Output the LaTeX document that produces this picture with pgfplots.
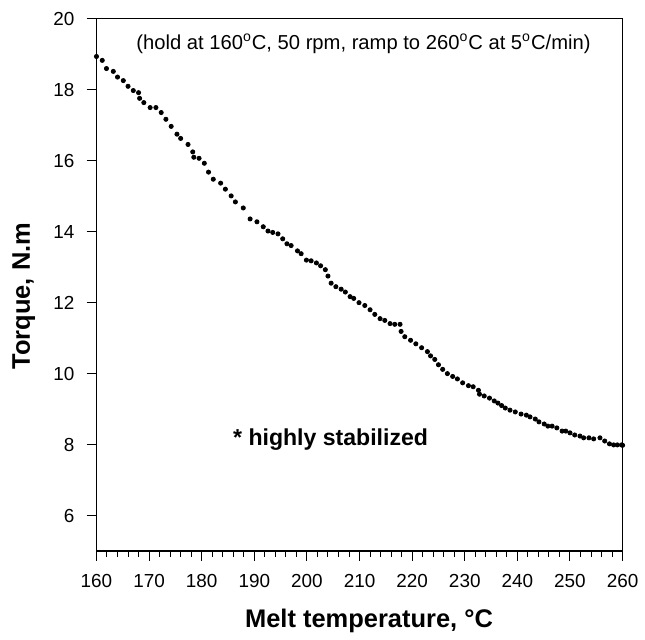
\documentclass[border=0pt]{standalone}
\usepackage{fontspec}
\setmainfont{Liberation Sans}
\usepackage{pgfplots}
\pgfplotsset{compat=1.18}
\begin{document}
\begin{tikzpicture}
\begin{axis}[
  width=264.5pt, height=267.5pt, scale only axis,
  xmin=160, xmax=260, ymin=5, ymax=20,
  xtick={160,170,...,260}, minor x tick num=4,
  ytick={6,8,...,20},
  tick align=outside, xtick pos=bottom, ytick pos=left,
  major tick length=5pt, minor tick length=3pt,
  axis line style={line width=0.6pt},
  every tick/.style={black, line width=0.5pt},
  /pgf/number format/assume math mode=true,
  ticklabel style={font=\fontsize{9.5}{11}\selectfont},
  xticklabel style={yshift=-3.2pt},
  yticklabel style={xshift=-2.6pt},
  xlabel={\textbf{Melt temperature, °C}},
  ylabel={\textbf{Torque, N.m}},
  label style={font=\fontsize{12.8}{14}\selectfont},
  xlabel style={at={(axis description cs:0.518,-0.1439)}, anchor=base},
  ylabel style={at={(axis description cs:-0.138,0.479)}, anchor=center},
]
\addplot[only marks, mark=*, mark size=1.05pt, black] coordinates {
(160,18.94) (161.1,18.83) (161.9,18.60) (163.2,18.52) (164,18.36) (165.1,18.26)
(166,18.10) (167,17.98) (168,17.92) (168.2,17.76) (169,17.64) (170.2,17.50)
(171.3,17.50) (172.3,17.36) (173.2,17.17) (174.2,16.97) (175.3,16.75) (176,16.63)
(177.4,16.46) (178.3,16.25) (178.5,16.10) (179.5,16.07) (180.5,15.93) (181.3,15.68)
(182.2,15.48) (183.6,15.37) (184.5,15.20) (185.6,15.01) (186.4,14.84) (187.9,14.67)
(189.2,14.36) (190.5,14.28) (191.7,14.14) (192.6,14.02) (193.5,13.98) (194.5,13.94)
(195.4,13.80) (196.2,13.66) (197.0,13.61) (198.2,13.46) (198.9,13.38) (199.9,13.20)
(200.8,13.18) (201.8,13.12) (202.6,13.04) (203.5,12.93) (204.0,12.75) (204.6,12.55)
(205.5,12.45) (206.5,12.38) (207.3,12.30) (208.2,12.17) (208.9,12.12) (209.9,12.00)
(211,11.92) (212,11.80) (212.9,11.67) (213.9,11.55) (214.8,11.50) (215.8,11.41)
(216.7,11.39) (217.7,11.39) (217.9,11.19) (218.6,11.04) (219.7,10.94) (220.7,10.84)
(221.8,10.73) (222.9,10.62) (223.5,10.50) (224.3,10.40) (225.0,10.25) (225.8,10.12)
(226.7,10.00) (227.7,9.92) (228.6,9.85) (229.6,9.74) (230.7,9.66) (231.6,9.63)
(232.6,9.53) (232.8,9.42) (233.7,9.37) (234.7,9.31) (235.6,9.23) (236.3,9.17)
(237.0,9.10) (237.7,9.03) (238.6,8.97) (239.6,8.92) (240.7,8.86) (241.7,8.83)
(242.4,8.78) (243.4,8.72) (244.1,8.64) (245.1,8.58) (245.8,8.52) (246.6,8.52)
(247.5,8.47) (248.5,8.38) (249.2,8.38) (250,8.33) (250.9,8.27) (251.9,8.24)
(252.6,8.19) (253.6,8.19) (254.5,8.16) (255.7,8.19) (256.6,8.10) (257.5,8.02)
(258.3,7.99) (259,7.99) (259.8,7.99) (260,7.98)
};
\node[font=\fontsize{10.15}{12}\selectfont] at (axis cs:210.75,19.30)
  {(hold at 160\textsuperscript{o}C, 50 rpm, ramp to 260\textsuperscript{o}C at 5\textsuperscript{o}C/min)};
\node[font=\fontsize{11.6}{13}\selectfont\bfseries] at (axis cs:204.5,8.14) {* highly stabilized};
\end{axis}
\path (current axis.south west) ++(-48.5pt,-40.5pt) coordinate (bbsw);
\path (current axis.north east) ++(9.5pt,9.5pt) coordinate (bbne);
\path[use as bounding box] (bbsw) rectangle (bbne);
\end{tikzpicture}
\end{document}
